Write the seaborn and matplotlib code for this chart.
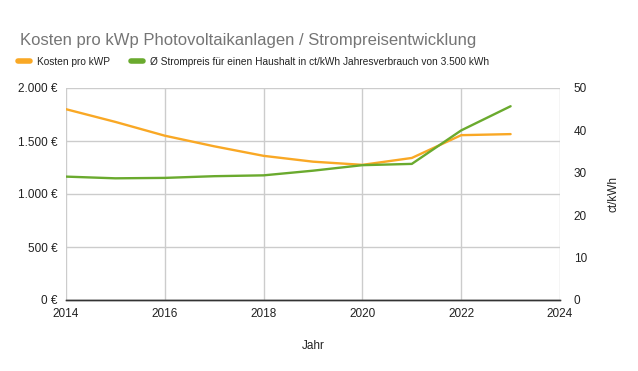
import matplotlib
matplotlib.use("Agg")
import matplotlib.pyplot as plt
from matplotlib.ticker import FuncFormatter
from matplotlib.lines import Line2D
import seaborn as sns
import pandas as pd

# data
years = [2014, 2015, 2016, 2017, 2018, 2019, 2020, 2021, 2022, 2023]
kosten_kwp = [1800, 1680, 1550, 1450, 1360, 1305, 1275, 1340, 1555, 1565]
strompreis = [29.1, 28.7, 28.8, 29.2, 29.4, 30.5, 31.8, 32.1, 40.0, 45.7]

orange = "#f9a825"
green = "#6aaa2e"
grid_col = "#cccccc"

sns.set_theme(style="white")
plt.rcParams["font.family"] = ["Liberation Sans", "DejaVu Sans"]

df = pd.DataFrame({"Jahr": years, "Kosten": kosten_kwp, "Strompreis": strompreis})

fig = plt.figure(figsize=(6.38, 3.71), dpi=100)
ax = fig.add_axes([66 / 638, 71 / 371, 494 / 638, 212 / 371])
ax2 = ax.twinx()

sns.lineplot(data=df, x="Jahr", y="Kosten", ax=ax, color=orange, linewidth=1.7)
sns.lineplot(data=df, x="Jahr", y="Strompreis", ax=ax2, color=green, linewidth=1.7)

ax.set_xlim(2014, 2024)
ax.set_ylim(0, 2000)
ax2.set_ylim(0, 50)
ax.set_xticks(range(2014, 2025, 2))
ax.set_yticks(range(0, 2001, 500))
ax2.set_yticks(range(0, 51, 10))
ax.yaxis.set_major_formatter(FuncFormatter(lambda v, p: f"{int(v):,} €".replace(",", ".")))

ax.grid(True, color=grid_col, linewidth=1)
ax2.grid(False)
ax.set_axisbelow(True)

for a in (ax, ax2):
    for s in ("top", "left", "right"):
        a.spines[s].set_visible(False)
    a.spines["bottom"].set_color("#333333")
    a.spines["bottom"].set_linewidth(1.0)
    a.tick_params(length=0, labelsize=8.5, colors="#222222")
ax.tick_params(axis="y", pad=6)
ax.tick_params(axis="x", pad=6)
ax2.tick_params(axis="y", pad=10)

ax.set_xlabel("Jahr", fontsize=8.5, color="#222222", labelpad=14)
ax.set_ylabel("")
ax2.set_ylabel("ct/kWh", fontsize=8.5, color="#222222", labelpad=15)

fig.text(20 / 638, 1 - 41 / 371, "Kosten pro kWp Photovoltaikanlagen / Strompreisentwicklung",
         fontsize=12, color="#757575", va="center", ha="left")

handles = [Line2D([], [], color=orange, linewidth=4),
           Line2D([], [], color=green, linewidth=4)]
labels = ["Kosten pro kWP", "Ø Strompreis für einen Haushalt in ct/kWh Jahresverbrauch von 3.500 kWh"]
fig.legend(handles, labels, loc="center left", bbox_to_anchor=(9 / 638, 1 - 62 / 371),
           ncol=2, frameon=False, fontsize=7.3, handlelength=1.2, handletextpad=0.7,
           columnspacing=2.0, labelcolor="#222222")

fig.savefig("out.png", dpi=100)
